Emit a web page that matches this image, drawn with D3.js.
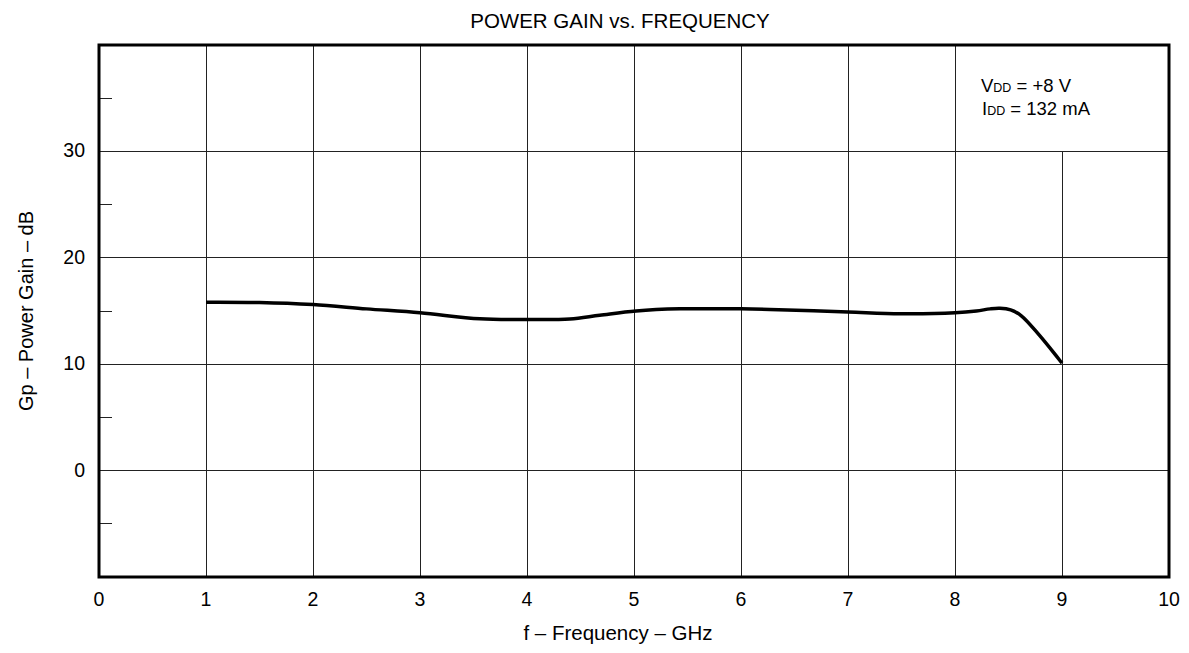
<!DOCTYPE html>
<html><head><meta charset="utf-8">
<script src="https://cdn.jsdelivr.net/npm/d3@7"></script>
<style>body{margin:0;background:#fff;} text{font-family:"Liberation Sans",Arial,sans-serif;fill:#000;}</style>
</head><body>
<svg id="c" width="1189" height="653"></svg>
<script>
const freq = [1.0, 1.5, 2.0, 2.5, 3.0, 3.56, 4.0, 4.4, 4.68, 5.02, 5.43, 6.0, 6.27, 7.0, 7.49, 8.0, 8.2, 8.33, 8.42, 8.52, 8.62, 8.79, 9.0];
const gain = [15.83, 15.8, 15.6, 15.2, 14.83, 14.27, 14.2, 14.25, 14.6, 15.0, 15.2, 15.2, 15.15, 14.9, 14.74, 14.83, 15.0, 15.2, 15.25, 15.1, 14.55, 12.7, 10.1];
const xTicks = [0,1,2,3,4,5,6,7,8,9,10];
const yTicks = [0,10,20,30];
const yMinor = [-5,5,15,25,35];

const svg = d3.select("#c");
const L=99, R=1169, T=45, B=577;
const x = d3.scaleLinear().domain([0,10]).range([L,R]);
const y = d3.scaleLinear().domain([-10,40]).range([B,T]);

const g = svg.append("g").attr("stroke","#222").attr("stroke-width",1).attr("shape-rendering","crispEdges");
[1,2,3,4,5,6,7,8].forEach(v=>g.append("line").attr("x1",x(v)).attr("x2",x(v)).attr("y1",y(-10)).attr("y2",y(40)));
g.append("line").attr("x1",x(9)).attr("x2",x(9)).attr("y1",y(-10)).attr("y2",y(30));
yTicks.forEach(v=>g.append("line").attr("x1",x(0)).attr("x2",x(10)).attr("y1",y(v)).attr("y2",y(v)));
yMinor.forEach(v=>g.append("line").attr("x1",x(0)).attr("x2",x(0)+13).attr("y1",y(v)).attr("y2",y(v)));

const line = d3.line().x((d,i)=>x(freq[i])).y((d,i)=>y(gain[i])).curve(d3.curveCatmullRom.alpha(0.5));
svg.append("path").datum(gain).attr("d",line).attr("fill","none").attr("stroke","#000").attr("stroke-width",3.5).attr("stroke-linejoin","round");

svg.append("rect").attr("x",L).attr("y",T).attr("width",R-L).attr("height",B-T).attr("fill","none").attr("stroke","#000").attr("stroke-width",3);

svg.append("g").selectAll("text").data(xTicks).join("text").attr("x",d=>x(d)).attr("y",606).attr("text-anchor","middle").attr("font-size",19.5).text(d=>d);
svg.append("g").selectAll("text").data(yTicks).join("text").attr("x",85).attr("y",d=>y(d)+6).attr("text-anchor","end").attr("font-size",19.5).text(d=>d);

svg.append("text").attr("x",620).attr("y",28).attr("text-anchor","middle").attr("font-size",20.5).text("POWER GAIN vs. FREQUENCY");
svg.append("text").attr("x",(L+R)/2 - 16).attr("y",640).attr("text-anchor","middle").attr("font-size",20.5).text("f – Frequency – GHz");
svg.append("text").attr("transform","translate(33,311) rotate(-90)").attr("text-anchor","middle").attr("font-size",20).text("Gp – Power Gain – dB");

const a1 = svg.append("text").attr("x",981).attr("y",92).attr("font-size",18.5);
a1.append("tspan").text("V");
a1.append("tspan").attr("font-size",12.5).text("DD");
a1.append("tspan").text(" = +8 V");
const a2 = svg.append("text").attr("x",982).attr("y",115).attr("font-size",18.5);
a2.append("tspan").text("I");
a2.append("tspan").attr("font-size",12.5).text("DD");
a2.append("tspan").text(" = 132 mA");
</script>
</body></html>
